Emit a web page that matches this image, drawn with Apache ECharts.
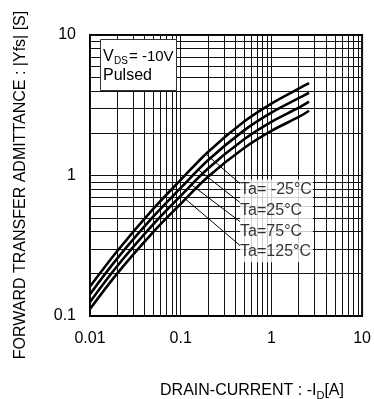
<!DOCTYPE html>
<html>
<head>
<meta charset="utf-8">
<script src="https://cdn.jsdelivr.net/npm/echarts@6/dist/echarts.min.js"></script>
<style>
  html, body { margin: 0; padding: 0; background: #fff; }
  #chart { width: 374px; height: 399px; }
</style>
</head>
<body>
<div id="chart"></div>
<script>
// Drain current -ID [A] at which each curve is sampled
const drainCurrent = [0.01, 0.02, 0.05, 0.1, 0.2, 0.5, 1, 2, 2.6];
// Forward transfer admittance |Yfs| [S] per ambient temperature
const yfsMinus25 = [0.162, 0.29, 0.58, 0.93, 1.47, 2.42, 3.25, 4.15, 4.55];
const yfs25      = [0.143, 0.257, 0.511, 0.816, 1.284, 2.095, 2.80, 3.55, 3.88];
const yfs75      = [0.126, 0.227, 0.45, 0.716, 1.12, 1.81, 2.41, 3.04, 3.36];
const yfs125     = [0.112, 0.201, 0.397, 0.628, 0.98, 1.57, 2.08, 2.61, 2.89];

const tempLabels = ['Ta= -25°C', 'Ta=25°C', 'Ta=75°C', 'Ta=125°C'];

const xTicks = [0.01, 0.1, 1, 10];
const xTickLabels = ['0.01', '0.1', '1', '10'];
const yTicks = [0.1, 1, 10];
const yTickLabels = ['0.1', '1', '10'];

// Leader lines: drain current where each leader touches its curve,
// and |Yfs| where it meets the label block
const leaderFromX = [0.19, 0.157, 0.132, 0.113];
const leaderToY = [0.877, 0.643, 0.470, 0.318];
const leaderToX = 0.45;
// Anchor of the temperature label block (left edge, vertical middle)
const tagAnchor = [0.452, 0.475];

const FONT = 'Liberation Sans, Arial, Helvetica, sans-serif';
const curves = [yfsMinus25, yfs25, yfs75, yfs125];

// log-log interpolation along a sampled curve
function onCurve(ys, x) {
  const lx = Math.log10(x);
  for (let i = 0; i < drainCurrent.length - 1; i++) {
    const a = Math.log10(drainCurrent[i]), b = Math.log10(drainCurrent[i + 1]);
    if (lx >= a && lx <= b) {
      const t = (lx - a) / (b - a);
      return Math.pow(10, Math.log10(ys[i]) * (1 - t) + Math.log10(ys[i + 1]) * t);
    }
  }
  return ys[ys.length - 1];
}

// 1..9 per decade grid values
function decadeLines(lo, hi) {
  const out = [];
  for (let d = lo; d < hi - 1e-9; d *= 10) {
    for (let k = 1; k <= 9; k++) out.push(+(d * k).toPrecision(3));
  }
  out.push(hi);
  return out;
}
const X_MIN = 0.01, X_MAX = 10, Y_MIN = 0.1, Y_MAX = 10;
const gridX = decadeLines(X_MIN, X_MAX);
const gridY = decadeLines(Y_MIN, Y_MAX);

function tickText(ticks, labels) {
  return function (v) {
    const i = ticks.findIndex(t => Math.abs(Math.log10(t) - Math.log10(v)) < 1e-6);
    return i >= 0 ? labels[i] : '';
  };
}

const chart = echarts.init(document.getElementById('chart'), null, { renderer: 'canvas' });

const gridSegments = gridX.map(v => ({ coords: [[v, Y_MIN], [v, Y_MAX]] }))
  .concat(gridY.map(v => ({ coords: [[X_MIN, v], [X_MAX, v]] })));

const leaderSegments = curves.map((ys, k) => ({
  coords: [[leaderFromX[k], onCurve(ys, leaderFromX[k])], [leaderToX, leaderToY[k]]]
}));

const option = {
  animation: false,
  backgroundColor: '#fff',
  grid: {
    left: 90, right: 8, top: 35, bottom: 83,
    show: true, borderColor: '#000', borderWidth: 2, backgroundColor: 'transparent'
  },
  xAxis: {
    type: 'log', logBase: 10, min: X_MIN, max: X_MAX,
    axisLine: { show: false }, axisTick: { show: false }, splitLine: { show: false },
    axisLabel: {
      margin: 15, color: '#000', fontSize: 16, fontFamily: FONT,
      formatter: tickText(xTicks, xTickLabels)
    }
  },
  yAxis: {
    type: 'log', logBase: 10, min: Y_MIN, max: Y_MAX,
    axisLine: { show: false }, axisTick: { show: false }, splitLine: { show: false },
    axisLabel: {
      margin: 14, color: '#000', fontSize: 16, fontFamily: FONT,
      formatter: tickText(yTicks, yTickLabels)
    }
  },
  series: [
    {
      name: 'grid',
      type: 'lines',
      coordinateSystem: 'cartesian2d',
      silent: true,
      z: 1,
      lineStyle: { color: '#111', width: 1, opacity: 1 },
      data: gridSegments
    },
    ...curves.map((ys, k) => ({
      name: tempLabels[k],
      type: 'line',
      smooth: 0.35,
      symbol: 'none',
      z: 5,
      lineStyle: { color: '#000', width: 2.6 },
      data: drainCurrent.map((x, i) => [x, ys[i]])
    })),
    {
      name: 'leaders',
      type: 'lines',
      coordinateSystem: 'cartesian2d',
      silent: true,
      z: 6,
      lineStyle: { color: '#000', width: 1, opacity: 1 },
      data: leaderSegments
    },
    {
      name: 'tags',
      type: 'scatter',
      symbolSize: 0,
      z: 10,
      silent: true,
      data: [tagAnchor],
      label: {
        show: true,
        position: 'right',
        distance: 0,
        formatter: tempLabels.join('\n'),
        color: '#000',
        fontSize: 16,
        fontFamily: FONT,
        lineHeight: 20.7,
        backgroundColor: '#fff',
        padding: [0, 1, 0, 0],
        align: 'left',
        verticalAlign: 'middle'
      }
    }
  ],
  graphic: [
    { type: 'rect', z: 100, shape: { x: 100.5, y: 39.5, width: 76, height: 51 },
      style: { fill: '#fff', stroke: '#333', lineWidth: 1 } },
    { type: 'text', z: 101, x: 103, y: 57,
      style: { text: 'V', font: '16px ' + FONT, fill: '#000', verticalAlign: 'middle' } },
    { type: 'text', z: 101, x: 114, y: 61,
      style: { text: 'DS', font: '10px ' + FONT, fill: '#000', verticalAlign: 'middle' } },
    { type: 'text', z: 101, x: 129, y: 57,
      style: { text: '= -10V', font: '15px ' + FONT, fill: '#000', verticalAlign: 'middle' } },
    { type: 'text', z: 101, x: 103, y: 76,
      style: { text: 'Pulsed', font: '16px ' + FONT, fill: '#000', verticalAlign: 'middle' } },
    {
      type: 'text', x: 21, y: 185, rotation: Math.PI / 2, z: 101,
      style: {
        text: 'FORWARD TRANSFER ADMITTANCE : |Yfs| [S]',
        font: '16px ' + FONT, fill: '#000', align: 'center', verticalAlign: 'middle'
      }
    },
    {
      type: 'text', x: 252, y: 391, z: 101,
      style: {
        text: '{m|DRAIN-CURRENT : -I}{s|D}{m|[A]}',
        align: 'center', verticalAlign: 'middle',
        rich: {
          m: { font: '16px ' + FONT, fill: '#000', lineHeight: 20 },
          s: { font: '11px ' + FONT, fill: '#000', lineHeight: 11, verticalAlign: 'bottom' }
        }
      }
    }
  ]
};

chart.setOption(option);
</script>
</body>
</html>
